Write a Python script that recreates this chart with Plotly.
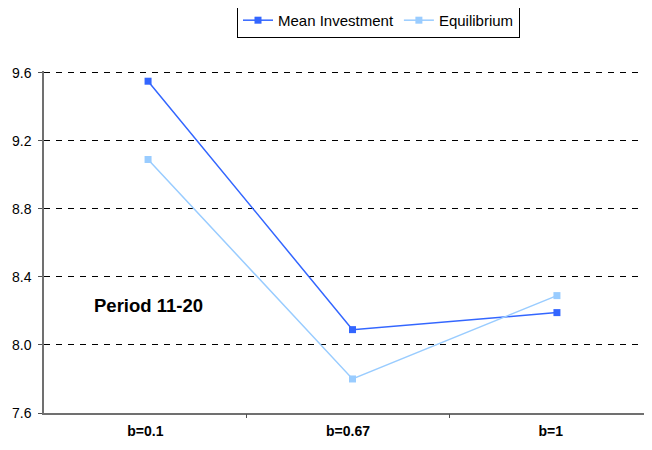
import plotly.graph_objects as go

categories = ["b=0.1", "b=0.67", "b=1"]
mean_investment = [9.55, 8.09, 8.19]
equilibrium = [9.09, 7.8, 8.29]
y_ticks = [7.6, 8.0, 8.4, 8.8, 9.2, 9.6]

# page body has an 8px margin, so the figure starts at (8, 8)
OFF = 8
W, H = 652 - OFF, 450 - OFF
L, R, B = 44 - OFF, 0, 37
T = H - B - 341.7
pw = W - L - R
ph = H - T - B

fig = go.Figure()
xs = list(range(len(categories)))
fig.add_trace(go.Scatter(x=xs, y=mean_investment, name="Mean Investment", mode="lines+markers",
                         line=dict(color="#3366FF", width=1.5),
                         marker=dict(symbol="square", size=7, color="#3366FF")))
fig.add_trace(go.Scatter(x=xs, y=equilibrium, name="Equilibrium", mode="lines+markers",
                         line=dict(color="#99CCFF", width=1.5),
                         marker=dict(symbol="square", size=7, color="#99CCFF")))
# invisible trace to host the label axis
fig.add_trace(go.Scatter(x=xs, y=[None] * len(xs), xaxis="x2", showlegend=False, hoverinfo="skip"))

fig.update_layout(
    width=W, height=H,
    margin=dict(l=L, r=R, t=T, b=B, autoexpand=False),
    paper_bgcolor="white", plot_bgcolor="white",
    font=dict(family="Liberation Sans, Arial", size=12, color="black"),
    xaxis=dict(range=[-0.509, 2.465], showticklabels=False, ticks="", showgrid=False,
               zeroline=False, showline=True, linecolor="#707070", linewidth=1.5),
    xaxis2=dict(overlaying="x", anchor="y", domain=[0, 546 / pw], range=[-0.5, 2.5],
                tickmode="array", tickvals=xs, ticktext=[f"<b>{c}</b>" for c in categories], ticks="",
                tickfont=dict(family="Liberation Sans, Arial", size=14, color="black"),
                showgrid=False, zeroline=False, showline=False, side="bottom",
                ticklabelstandoff=8,
                minor=dict(tickmode="array", tickvals=[0.5, 1.5], ticks="outside", ticklen=4,
                           tickcolor="#505050", tickwidth=1, showgrid=False)),
    yaxis=dict(range=[7.6, 9.61], tickmode="array", tickvals=y_ticks, tickformat=".1f",
               ticks="outside", ticklen=4, tickcolor="#505050",
               showgrid=True, gridcolor="black", gridwidth=1, griddash="6px,6px",
               zeroline=False, showline=True, linecolor="#707070", linewidth=1.5,
               tickfont=dict(size=14), ticklabelstandoff=4),
    legend=dict(orientation="h", x=(237 - 44) / pw, xanchor="left",
                y=1 + (73 - 5) / ph, yanchor="top", bordercolor="black", borderwidth=1,
                bgcolor="white", font=dict(size=15), itemwidth=30, tracegroupgap=0),
    showlegend=True,
    annotations=[dict(text="<b>Period 11-20</b>", x=(92 - 44) / pw, xref="paper", xanchor="left",
                      y=8.23, yref="y", yanchor="middle", showarrow=False,
                      font=dict(size=18.5, color="black"))],
)

fig.write_html("out.html")
